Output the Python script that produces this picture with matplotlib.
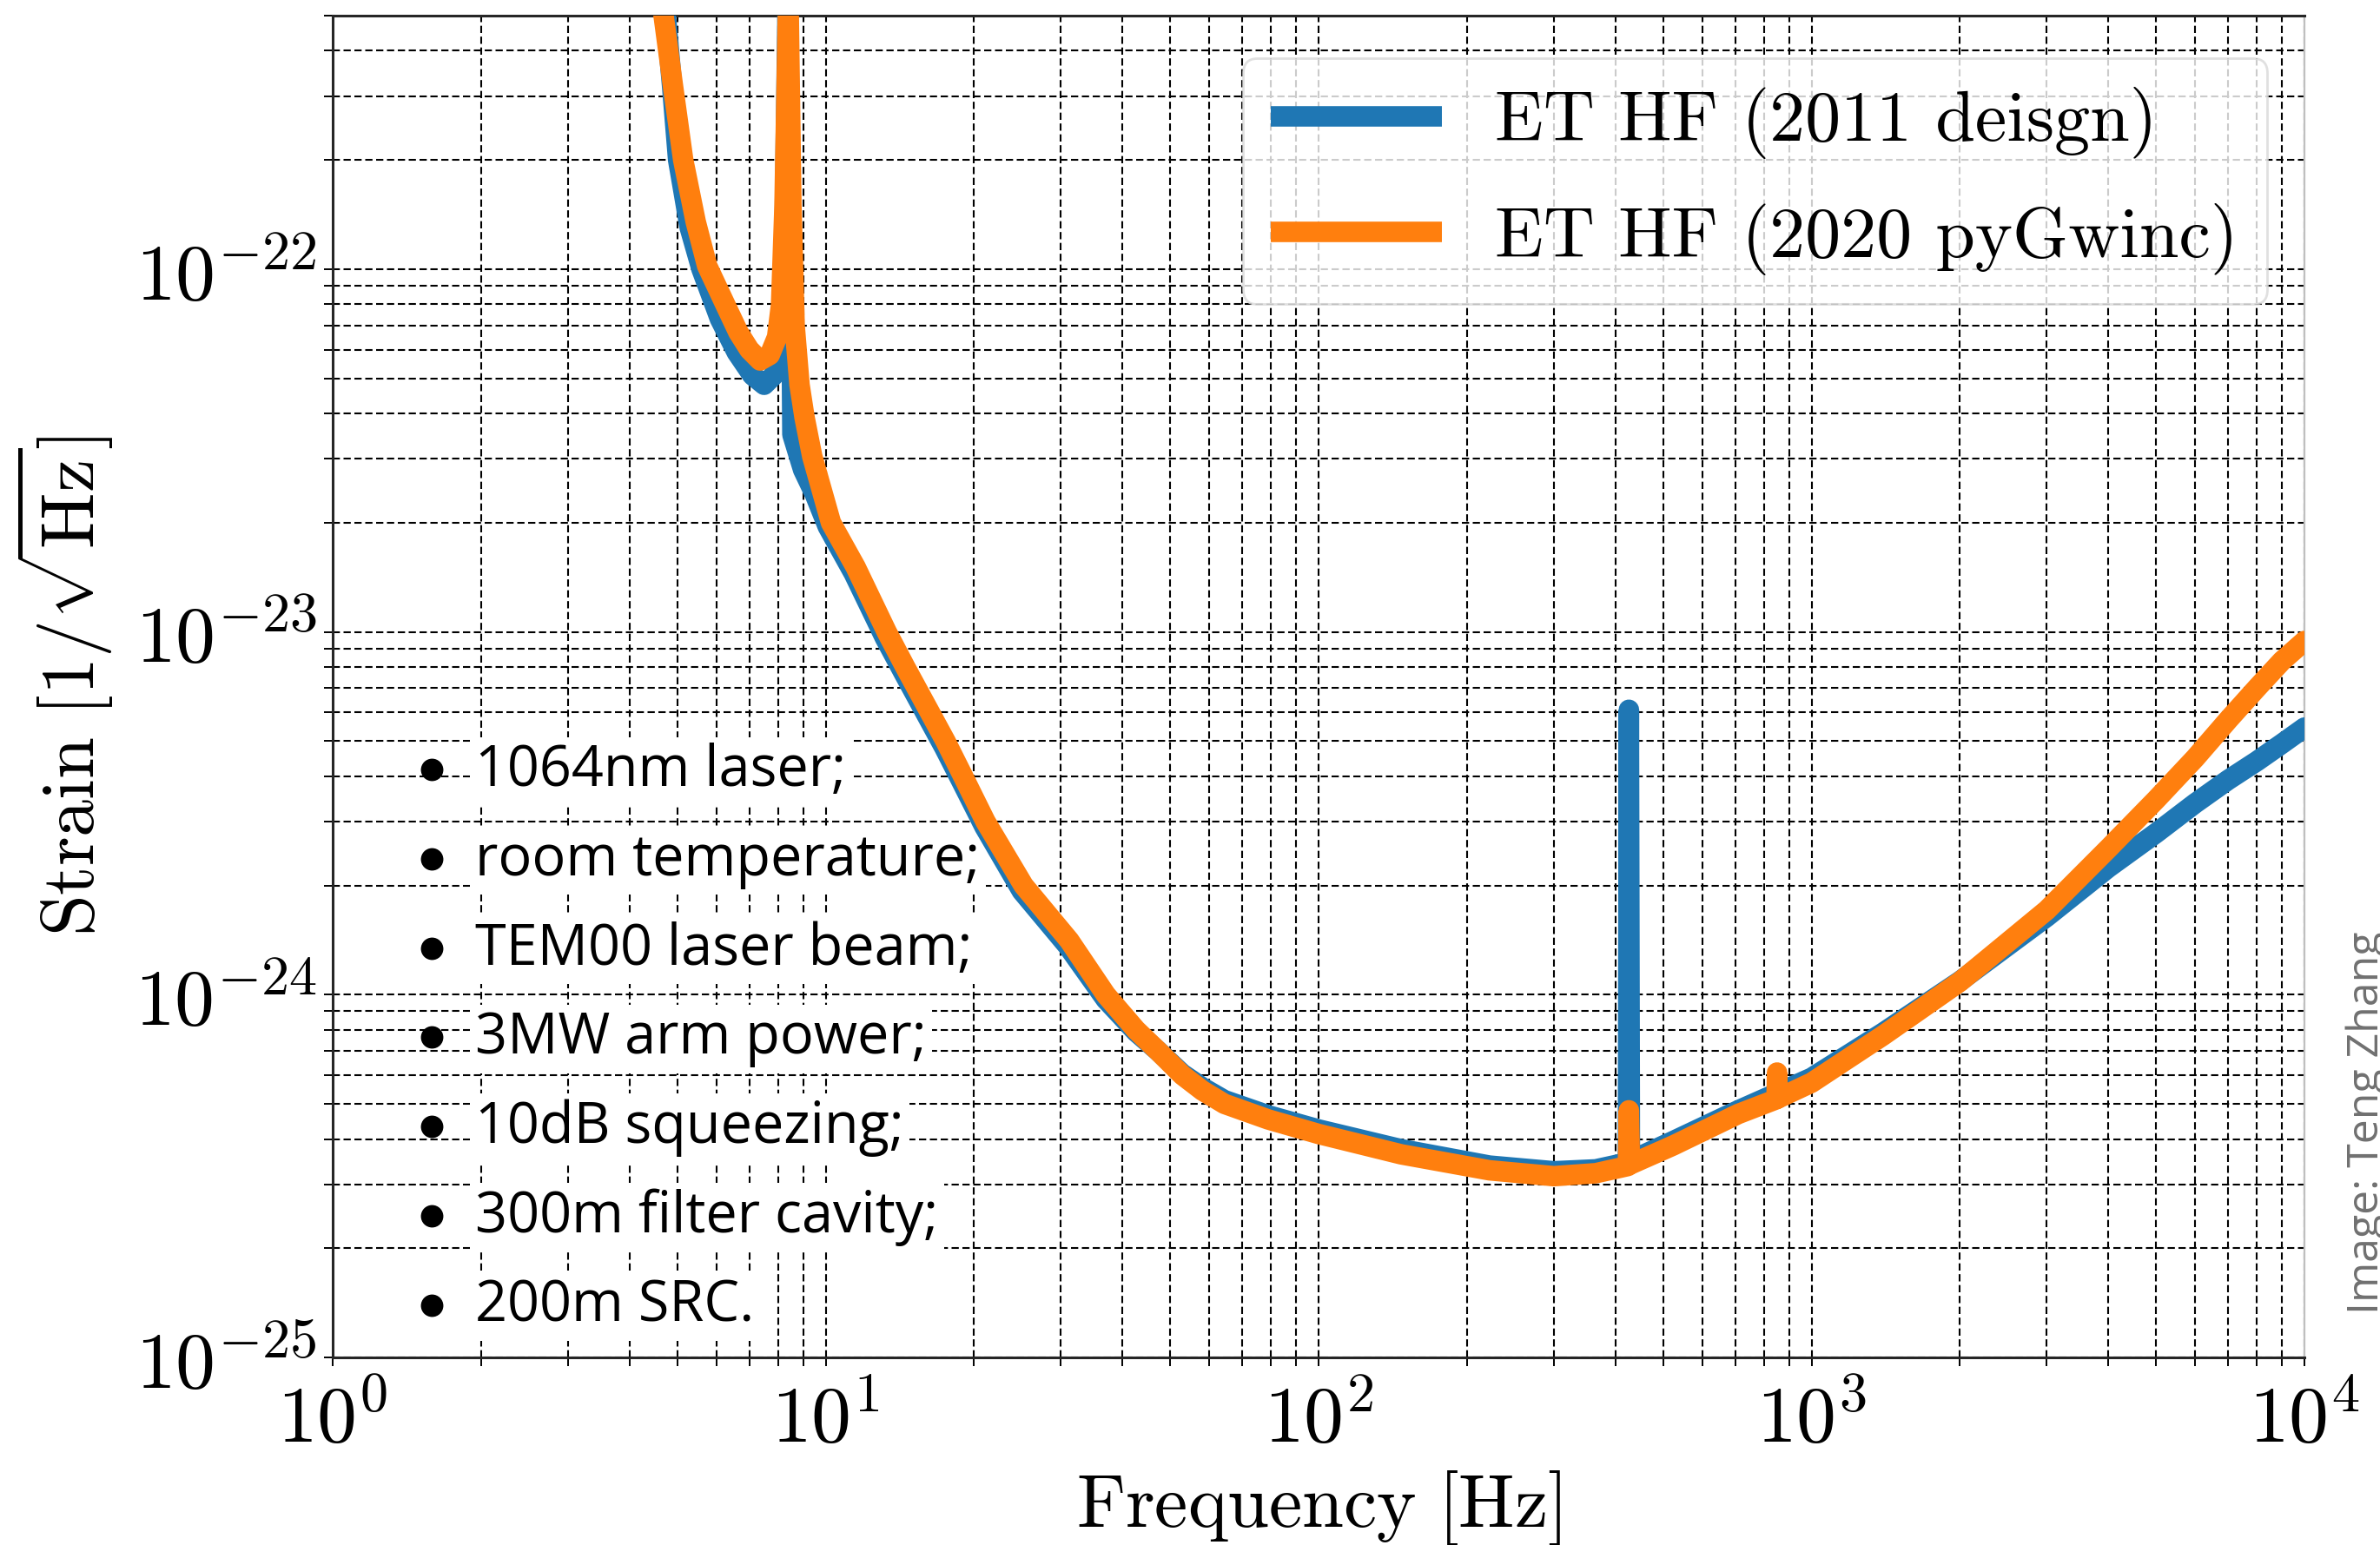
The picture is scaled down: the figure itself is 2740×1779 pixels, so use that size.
import matplotlib.pyplot as plt
from matplotlib import ticker
from matplotlib.lines import Line2D
import numpy as np

plt.rcParams['mathtext.fontset'] = 'cm'

# ET HF sensitivity curves
f_blue = [4.6, 4.74, 4.88, 5.02, 5.3, 5.6, 6.1, 6.6, 7.1, 7.5, 7.85, 8.1, 8.25,
          8.38, 8.5, 8.56, 9.0, 9.5, 10.1, 11.4, 13.2, 14.4, 17.4, 18.9, 21.0,
          25.0, 31.0, 37.0, 42.6, 47.2, 52.9, 58.1, 64.4, 79, 100, 147, 222,
          300, 365, 424, 426, 428, 524, 710, 1000, 1395, 2000, 3000, 4000, 5000,
          6000, 7000, 8000, 9000, 10000]
h_blue = [7.0e-22, 5.0e-22, 3.2e-22, 2.0e-22, 1.3e-22, 1.0e-22, 7.3e-23, 5.9e-23,
          5.1e-23, 4.8e-23, 5.1e-23, 6.0e-23, 1.2e-22, 6.0e-22, 1.2e-22, 3.5e-23,
          2.8e-23, 2.4e-23, 1.95e-23, 1.45e-23, 9.6e-24, 7.7e-24, 4.8e-24,
          3.85e-24, 2.9e-24, 1.93e-24, 1.36e-24, 9.7e-25, 7.9e-25, 7.0e-25,
          6.05e-25, 5.55e-25, 5.12e-25, 4.65e-25, 4.25e-25, 3.75e-25, 3.38e-25,
          3.26e-25, 3.3e-25, 3.45e-25, 6.1e-24, 3.48e-25, 3.95e-25, 4.8e-25,
          5.9e-25, 7.85e-25, 1.09e-24, 1.64e-24, 2.24e-24, 2.79e-24, 3.37e-24,
          3.91e-24, 4.4e-24, 4.92e-24, 5.45e-24]

f_orange = [4.55, 4.69, 4.9, 5.14, 5.45, 5.75, 6.2, 6.65, 7.0, 7.36, 7.7, 7.97,
            8.12, 8.25, 8.4, 8.52, 8.65, 8.85, 9.06, 9.39, 10.25, 11.5, 13.3,
            14.5, 17.5, 19.0, 21.1, 25.2, 31.2, 37.0, 42.6, 47.2, 52.9, 58.1,
            64.4, 79, 100, 147, 222, 300, 365, 424, 426, 428, 524, 710, 849, 851,
            853, 1000, 1395, 2000, 3000, 4000, 5000, 6000, 7000, 8000, 9000,
            10000]
h_orange = [6.2e-22, 5.0e-22, 3.2e-22, 2.0e-22, 1.35e-22, 1.02e-22, 8.2e-23,
            6.7e-23, 6.0e-23, 5.6e-23, 5.8e-23, 6.5e-23, 8.0e-23, 1.5e-22, 6.0e-22,
            1.5e-22, 7.0e-23, 4.8e-23, 3.9e-23, 3.05e-23, 2.0e-23, 1.51e-23,
            1.0e-23, 8.0e-24, 5.0e-24, 4.0e-24, 3.0e-24, 2.0e-24, 1.41e-24,
            1.0e-24, 8.0e-25, 7.0e-25, 6.0e-25, 5.44e-25, 5.0e-25, 4.53e-25,
            4.13e-25, 3.63e-25, 3.28e-25, 3.16e-25, 3.22e-25, 3.37e-25, 4.8e-25,
            3.40e-25, 3.84e-25, 4.69e-25, 5.15e-25, 6.1e-25, 5.17e-25, 5.72e-25,
            7.71e-25, 1.086e-24, 1.71e-24, 2.53e-24, 3.45e-24, 4.49e-24, 5.72e-24,
            7.0e-24, 8.32e-24, 9.44e-24]

labels = ['ET HF (2011 deisgn)', 'ET HF (2020 pyGwinc)']
notes = ['1064nm laser;', 'room temperature;', 'TEM00 laser beam;',
         '3MW arm power;', '10dB squeezing;', '300m filter cavity;', '200m SRC.']

fig = plt.figure(figsize=(13.7, 8.895), dpi=200)
ax = fig.add_axes([0.1398, 0.1214, 0.8285, 0.8685])

ax.loglog(f_blue, h_blue, color='#1f77b4', lw=8.5, solid_capstyle='round',
          solid_joinstyle='round', label=labels[0], zorder=3)
ax.loglog(f_orange, h_orange, color='#ff7f0e', lw=8.5, solid_capstyle='round',
          solid_joinstyle='round', label=labels[1], zorder=4)

ax.set_xlim(1, 1e4)
ax.set_ylim(1e-25, 5e-22)
ax.grid(which='both', color='k', ls=(0, (4, 2)), lw=0.75)

fmt = ticker.FuncFormatter(lambda v, p: r'$10^{%d}$' % round(np.log10(v)))
ax.xaxis.set_major_formatter(fmt)
ax.yaxis.set_major_formatter(fmt)
ax.xaxis.set_minor_formatter(ticker.NullFormatter())
ax.yaxis.set_minor_formatter(ticker.NullFormatter())
ax.tick_params(which='both', direction='out', length=3.5, width=0.7)
ax.tick_params(axis='x', labelsize=33, pad=6)
ax.tick_params(axis='y', labelsize=33, pad=3)

ax.set_xlabel(r'$\mathrm{Frequency}\ [\mathrm{Hz}]$', fontsize=31, labelpad=4)
ax.set_ylabel(r'$\mathrm{Strain}\ [1/\sqrt{\mathrm{Hz}}]$', fontsize=31, labelpad=8)

for side in ['top', 'bottom', 'left']:
    ax.spines[side].set_color('0.15')
    ax.spines[side].set_linewidth(1.1)
ax.spines['right'].set_color('0.75')

leg = ax.legend(loc='upper right', bbox_to_anchor=(0.981, 0.968), borderaxespad=0,
                prop={'family': 'cmr10', 'size': 29.5}, handlelength=2.4,
                handletextpad=0.75, labelspacing=0.62, framealpha=0.8,
                edgecolor='0.85', fancybox=True)
for h in leg.get_lines():
    h.set_solid_capstyle('butt')

# bullet list of design parameters (above the grid, below the curves)
y0, step = 1 - 905 / 1779, 102.8 / 1779
for i, line in enumerate(notes):
    y = y0 - i * step
    ax.add_artist(Line2D([0.1815], [y + 19 / 1779], marker='o', ms=8.3,
                         color='black', transform=fig.transFigure, zorder=2.5,
                         clip_on=False))
    ax.text(0.1997, y, line, family='Open Sans', fontsize=23.3, va='baseline',
            ha='left', zorder=2.5, transform=fig.transFigure,
            bbox=dict(boxstyle='square,pad=0.1', fc='white', ec='none'))

fig.text(0.9993, 0.1495, 'Image: Teng Zhang', rotation=90, rotation_mode='anchor',
         ha='left', va='baseline', fontsize=18, color='#707070', family='Open Sans')

fig.savefig('out.png', dpi=200)
